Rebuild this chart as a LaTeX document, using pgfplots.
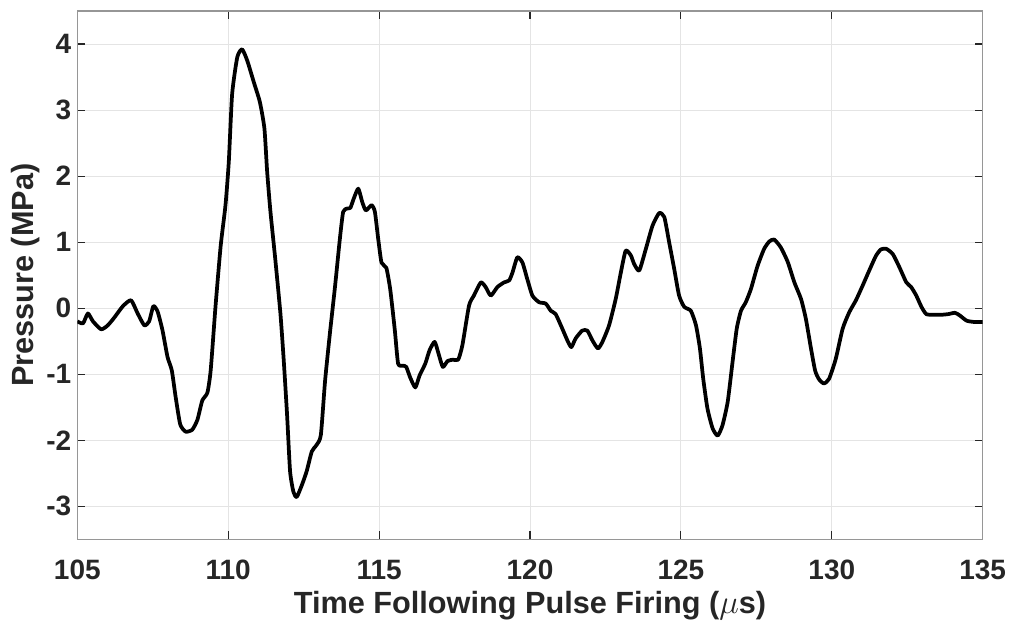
\documentclass[border=0pt]{standalone}
\usepackage{pgfplots}
\pgfplotsset{compat=1.18}
\usepackage{fontspec}
\setmainfont{Liberation Sans}

\definecolor{axisgray}{RGB}{150,150,150}
\definecolor{tickgray}{RGB}{38,38,38}
\definecolor{gridgray}{RGB}{228,228,228}

\begin{document}
\begin{tikzpicture}
\begin{axis}[
  scale only axis,
  width=679pt, height=396.2pt,
  xmin=105, xmax=135, ymin=-3.5, ymax=4.5,
  xtick={105,110,...,135},
  ytick={-3,-2,...,4},
  axis line style={axisgray, line width=0.8pt},
  tick style={tickgray, line width=0.8pt},
  major tick length=6pt,
  tick align=inside,
  grid=major,
  major grid style={gridgray, line width=0.7pt},
  /pgf/number format/assume math mode=true,
  ticklabel style={font=\fontsize{21}{24}\selectfont\bfseries, text=tickgray},
  yticklabel style={xshift=-1pt},
  xticklabel style={yshift=-12pt},
  label style={font=\fontsize{23}{27}\selectfont\bfseries, text=tickgray},
  xlabel={Time Following Pulse Firing ($\mu$s)},
  ylabel={Pressure (MPa)},
  xlabel style={yshift=-2pt},
  ylabel style={yshift=-2pt},
]
\addplot[black, line width=2.8pt, line join=round, smooth, tension=0.35] coordinates {
(105.00,-0.20) (105.19,-0.23) (105.35,-0.08) (105.52,-0.20) (105.79,-0.32)
(106.01,-0.26) (106.23,-0.14) (106.51,0.03) (106.78,0.12) (107.00,-0.08)
(107.22,-0.26) (107.38,-0.20) (107.52,0.03) (107.66,-0.05) (107.82,-0.33)
(107.99,-0.74) (108.13,-0.94) (108.26,-1.35) (108.41,-1.76) (108.59,-1.87)
(108.81,-1.84) (108.98,-1.69) (109.14,-1.40) (109.31,-1.28) (109.42,-0.94)
(109.58,0.03) (109.75,0.94) (109.91,1.56) (110.02,2.22) (110.13,3.24)
(110.30,3.80) (110.46,3.92) (110.63,3.75) (110.85,3.42) (111.05,3.12)
(111.20,2.72) (111.29,2.07) (111.40,1.46) (111.56,0.74) (111.73,-0.08)
(111.84,-0.79) (111.95,-1.61) (112.05,-2.47) (112.16,-2.78) (112.27,-2.86)
(112.44,-2.68) (112.60,-2.47) (112.77,-2.17) (112.93,-2.07) (113.07,-1.92)
(113.21,-1.10) (113.37,-0.38) (113.54,0.33) (113.70,1.05) (113.81,1.46)
(113.95,1.51) (114.05,1.52) (114.16,1.66) (114.31,1.81) (114.44,1.61)
(114.56,1.48) (114.75,1.56) (114.86,1.46) (114.97,1.05) (115.08,0.69)
(115.24,0.61) (115.37,0.28) (115.52,-0.33) (115.63,-0.84) (115.79,-0.87)
(115.90,-0.89) (116.03,-1.05) (116.20,-1.20) (116.34,-1.02) (116.53,-0.84)
(116.67,-0.64) (116.84,-0.51) (116.97,-0.69) (117.11,-0.89) (117.27,-0.80)
(117.45,-0.78) (117.62,-0.78) (117.76,-0.56) (117.98,0.04) (118.14,0.19)
(118.37,0.39) (118.53,0.32) (118.70,0.19) (118.92,0.32) (119.14,0.39)
(119.31,0.42) (119.42,0.54) (119.58,0.77) (119.75,0.69) (119.91,0.44)
(120.08,0.19) (120.30,0.09) (120.52,0.07) (120.69,-0.04) (120.85,-0.09)
(121.07,-0.31) (121.24,-0.49) (121.37,-0.59) (121.51,-0.46) (121.73,-0.34)
(121.90,-0.34) (122.07,-0.49) (122.25,-0.61) (122.40,-0.51) (122.62,-0.26)
(122.84,0.14) (123.01,0.54) (123.17,0.87) (123.34,0.80) (123.45,0.67)
(123.62,0.57) (123.84,0.90) (124.06,1.25) (124.28,1.44) (124.45,1.38)
(124.61,1.00) (124.78,0.59) (124.94,0.19) (125.11,0.02) (125.33,-0.04)
(125.50,-0.26) (125.63,-0.61) (125.74,-1.07) (125.88,-1.52) (126.05,-1.82)
(126.22,-1.93) (126.38,-1.77) (126.55,-1.42) (126.71,-0.82) (126.85,-0.31)
(126.99,-0.04) (127.15,0.09) (127.32,0.29) (127.54,0.64) (127.76,0.90)
(127.93,1.01) (128.09,1.04) (128.31,0.92) (128.54,0.70) (128.76,0.39)
(128.98,0.14) (129.14,-0.16) (129.31,-0.61) (129.45,-0.95) (129.58,-1.08)
(129.74,-1.14) (129.91,-1.07) (130.13,-0.77) (130.36,-0.31) (130.58,-0.06)
(130.80,0.12) (131.02,0.34) (131.24,0.57) (131.47,0.80) (131.63,0.89)
(131.80,0.90) (132.02,0.82) (132.24,0.62) (132.47,0.39) (132.63,0.32)
(132.80,0.19) (132.97,0.02) (133.13,-0.09) (133.36,-0.10) (133.63,-0.10)
(133.86,-0.09) (134.08,-0.07) (134.24,-0.11) (134.47,-0.19) (134.74,-0.21)
(135.00,-0.21)
};
\end{axis}
\pgfresetboundingbox
\path[use as bounding box]
  ([shift={(-57.975pt,-64.275pt)}]current axis.south west)
  rectangle ([shift={(20.475pt,8.25pt)}]current axis.north east);
\end{tikzpicture}
\end{document}
